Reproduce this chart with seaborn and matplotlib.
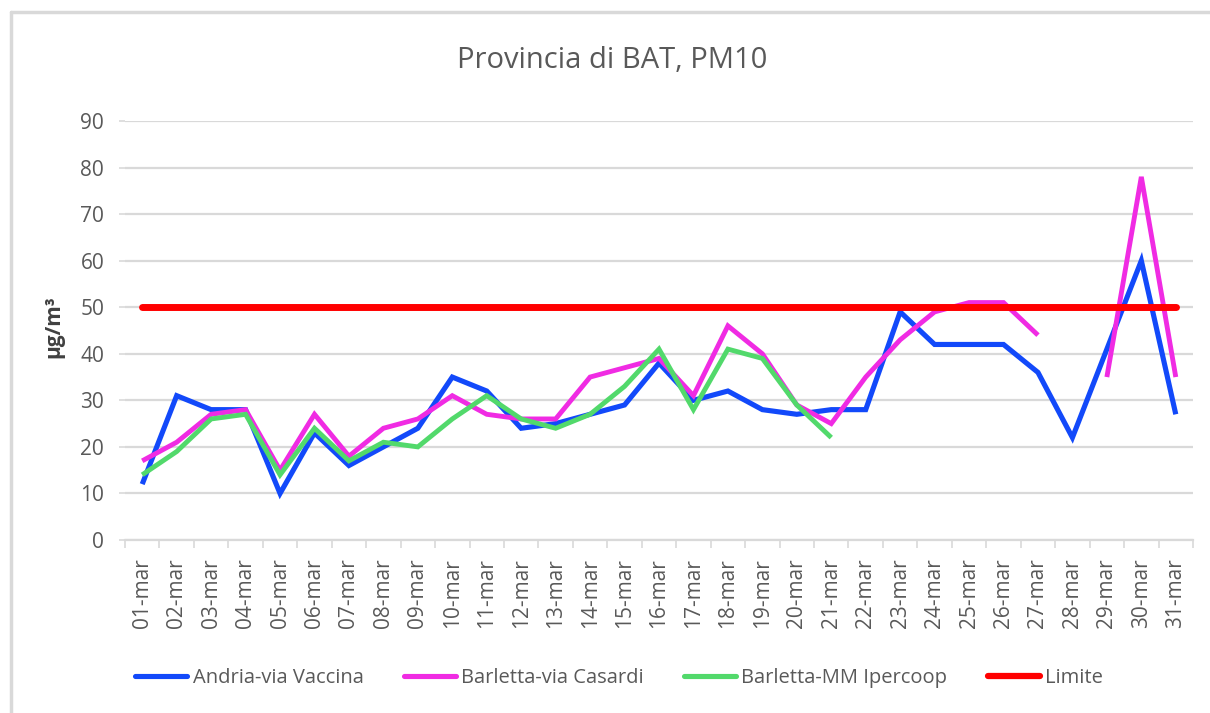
import numpy as np
import pandas as pd
import matplotlib
matplotlib.use("Agg")
import matplotlib.pyplot as plt
from matplotlib.lines import Line2D
from matplotlib.ticker import FixedLocator
import seaborn as sns

# ---------------- data ----------------
giorni = ["01-mar", "02-mar", "03-mar", "04-mar", "05-mar", "06-mar", "07-mar", "08-mar",
          "09-mar", "10-mar", "11-mar", "12-mar", "13-mar", "14-mar", "15-mar", "16-mar",
          "17-mar", "18-mar", "19-mar", "20-mar", "21-mar", "22-mar", "23-mar", "24-mar",
          "25-mar", "26-mar", "27-mar", "28-mar", "29-mar", "30-mar", "31-mar"]

andria_via_vaccina = [12, 31, 28, 28, 10, 23, 16, 20, 24, 35, 32, 24, 25, 27, 29, 38,
                      30, 32, 28, 27, 28, 28, 49, 42, 42, 42, 36, 22, 41, 60, 27]

barletta_via_casardi = [17, 21, 27, 28, 15, 27, 18, 24, 26, 31, 27, 26, 26, 35, 37, 39,
                        31, 46, 40, 29, 25, 35, 43, 49, 51, 51, 44, np.nan, 35, 78, 35]

barletta_mm_ipercoop = [14, 19, 26, 27, 14, 24, 17, 21, 20, 26, 31, 26, 24, 27, 33, 41,
                        28, 41, 39, 29, 22, np.nan, np.nan, np.nan, np.nan, np.nan, np.nan,
                        np.nan, np.nan, np.nan, np.nan]

limite_valore = 50
limite = [limite_valore] * len(giorni)

serie_nomi = ["Andria-via Vaccina", "Barletta-via Casardi", "Barletta-MM Ipercoop", "Limite"]
serie_valori = [andria_via_vaccina, barletta_via_casardi, barletta_mm_ipercoop, limite]

titolo = "Provincia di BAT, PM10"
y_label = "µg/m³"
y_ticks = [0, 10, 20, 30, 40, 50, 60, 70, 80, 90]

# ---------------- style ----------------
colori = {"Andria-via Vaccina": "#1249FA",
          "Barletta-via Casardi": "#F02BE3",
          "Barletta-MM Ipercoop": "#52D96B",
          "Limite": "#FF0000"}
spessori = {"Andria-via Vaccina": 3.7,
            "Barletta-via Casardi": 3.5,
            "Barletta-MM Ipercoop": 3.5,
            "Limite": 5.0}

sns.set_theme(style="white")
plt.rcParams["font.family"] = ["Open Sans", "DejaVu Sans"]

GRAY_TXT = "#595959"
GRID = "#D9D9D9"

fig = plt.figure(figsize=(12.10, 7.13), dpi=100)
ax = fig.add_axes([125 / 1210, 1 - 540 / 713, (1193 - 125) / 1210, 419 / 713])

# long-form frame with segment ids so gaps (NaN) are not bridged
rows = []
for nome, valori in zip(serie_nomi, serie_valori):
    seg = 0
    for i, v in enumerate(valori):
        if v is None or (isinstance(v, float) and np.isnan(v)):
            seg += 1
            continue
        rows.append({"giorno": i, "valore": v, "serie": nome, "seg": seg})
df = pd.DataFrame(rows)

for nome in serie_nomi:
    sub = df[df["serie"] == nome]
    sns.lineplot(data=sub, x="giorno", y="valore", units="seg", estimator=None,
                 color=colori[nome], linewidth=spessori[nome], ax=ax, legend=False,
                 solid_capstyle="round" if nome == "Limite" else "butt",
                 solid_joinstyle="miter" if nome != "Limite" else "round")

# axes
ax.set_xlim(-0.5, len(giorni) - 0.5)
ax.set_ylim(0, 90)
ax.set_xlabel("")
ax.set_ylabel("")

ax.yaxis.set_major_locator(FixedLocator(y_ticks))
ax.set_yticklabels([str(t) for t in y_ticks])
ax.yaxis.grid(True, color=GRID, linewidth=1.6)
ax.xaxis.grid(False)
ax.set_axisbelow(True)

ax.set_xticks(range(len(giorni)))
ax.set_xticklabels(giorni, rotation=90)
ax.set_xticks(np.arange(-0.5, len(giorni), 1.0), minor=True)

for s in ["left", "top", "right"]:
    ax.spines[s].set_visible(False)
ax.spines["bottom"].set_color(GRID)
ax.spines["bottom"].set_linewidth(1.6)

ax.tick_params(axis="x", which="major", length=0, pad=13, labelsize=15, labelcolor=GRAY_TXT)
ax.tick_params(axis="x", which="minor", length=6, width=1.2, color=GRID, bottom=True)
ax.tick_params(axis="y", which="major", length=4, width=1.2, color=GRID, left=True,
               pad=11, labelsize=15, labelcolor=GRAY_TXT)

# title & y label
fig.text(612.5 / 1210, 1 - 68 / 713, titolo, ha="center", va="baseline",
         fontsize=21, color=GRAY_TXT)
fig.text(54 / 1210, 1 - 327 / 713, y_label, ha="center", va="center", rotation=90,
         fontsize=15, fontweight="bold", color="#404040")

# legend
handles = [Line2D([0], [0], color=colori[n], linewidth=3.7 if n != "Limite" else 4.5,
                  solid_capstyle="round") for n in serie_nomi]
fig.legend(handles, serie_nomi, loc="center", bbox_to_anchor=(619 / 1210, 1 - 678 / 713),
           ncol=4, frameon=False, fontsize=14.5, labelcolor=GRAY_TXT,
           handlelength=2.6, handletextpad=0.25, columnspacing=2.0)

# chart border (top and left visible)
fig.add_artist(Line2D([11 / 1210, 11 / 1210], [0, 1 - 12 / 713], transform=fig.transFigure,
                      color=GRID, linewidth=2.5))
fig.add_artist(Line2D([11 / 1210, 1], [1 - 12 / 713, 1 - 12 / 713], transform=fig.transFigure,
                      color=GRID, linewidth=2.5))

fig.savefig("out.png", dpi=100, facecolor="white")
